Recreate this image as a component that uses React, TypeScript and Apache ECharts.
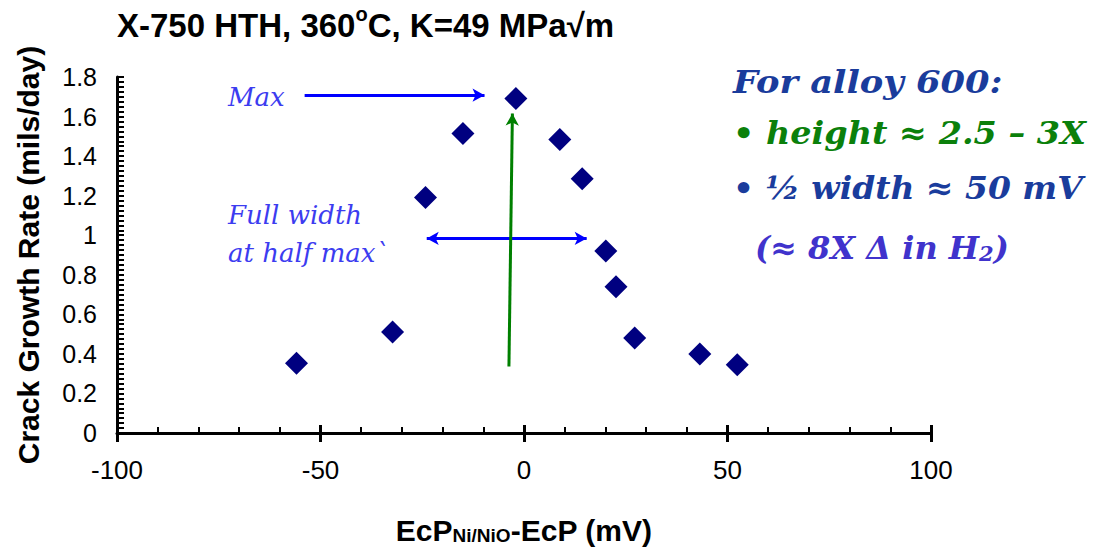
import React, { useEffect, useRef } from "react";
import * as echarts from "echarts";

const potential = [-55.9, -32.3, -24.2, -15.0, -2.0, 8.8, 14.3, 20.1, 22.6, 27.2, 43.2, 52.4];
const growthRate = [0.353, 0.511, 1.191, 1.514, 1.691, 1.484, 1.285, 0.92, 0.74, 0.48, 0.399, 0.345];

const maxArrow = [[-53.9, 1.708], [-9.7, 1.708]];
const fwhmArrow = [[-23.9, 0.984], [15.4, 0.984]];
const heightArrow = [[-3.7, 0.336], [-2.85, 1.615]];

const ARIAL = "'Liberation Sans', Arial, sans-serif";
const SERIF = "'DejaVu Serif', serif";

export default function App() {
  const ref = useRef<HTMLDivElement>(null);
  useEffect(() => {
    if (!ref.current) return;
    const chart = echarts.init(ref.current, null, { renderer: "svg" });
    const points = potential.map((x, i) => [x, growthRate[i]]);
    const bigText = { fontSize: 32, fontWeight: "bold", fontStyle: "italic", fontFamily: SERIF, verticalAlign: "middle" };
    chart.setOption({
      animation: false,
      backgroundColor: "#ffffff",
      title: {
        left: 117,
        top: 4,
        padding: 0,
        text: "{a|X-750 HTH, 360}{s|o}{a|C, K=49 MPa√m}",
        textStyle: {
          rich: {
            a: { fontSize: 33, fontWeight: "bold", fontFamily: ARIAL, color: "#000", verticalAlign: "bottom", lineHeight: 38 },
            s: { fontSize: 20, fontWeight: "bold", fontFamily: ARIAL, color: "#000", verticalAlign: "top", lineHeight: 30 },
          },
        },
      },
      grid: { left: 117, top: 77, width: 814, height: 356, containLabel: false },
      xAxis: [
        {
          type: "value",
          position: "bottom",
          min: -100,
          max: 100,
          interval: 50,
          splitLine: { show: false },
          axisLine: { show: true, onZero: false, lineStyle: { color: "#000", width: 3 } },
          axisTick: { show: true, inside: false, length: 9, lineStyle: { color: "#000", width: 3 } },
          axisLabel: { fontSize: 26, color: "#000", fontFamily: ARIAL, margin: 24 },
          name: "{m|EcP}{s|Ni/NiO}{m|-EcP (mV)}",
          nameLocation: "middle",
          nameGap: 78,
          nameTextStyle: {
            rich: {
              m: { fontSize: 30, fontWeight: "bold", fontFamily: ARIAL, color: "#000", lineHeight: 34, verticalAlign: "bottom" },
              s: { fontSize: 19, fontWeight: "bold", fontFamily: ARIAL, color: "#000", lineHeight: 24, verticalAlign: "bottom" },
            },
          },
        },
        {
          type: "value",
          position: "bottom",
          min: -100,
          max: 100,
          interval: 50,
          splitLine: { show: false },
          axisLine: { show: false, onZero: false },
          axisTick: { show: true, inside: true, length: 8, lineStyle: { color: "#000", width: 3 } },
          minorTick: { show: true, splitNumber: 5, length: 6, lineStyle: { color: "#000", width: 2 } },
          axisLabel: { show: false },
        },
      ],
      yAxis: {
        type: "value",
        min: 0,
        max: 1.8,
        interval: 0.2,
        splitLine: { show: false },
        axisLine: { show: true, onZero: false, lineStyle: { color: "#000", width: 3 } },
        axisTick: { show: true, inside: true, length: 7, lineStyle: { color: "#000", width: 2 } },
        minorTick: { show: true, splitNumber: 8, length: 7, lineStyle: { color: "#000", width: 2 } },
        axisLabel: { fontSize: 25, color: "#000", fontFamily: ARIAL, margin: 20 },
        name: "Crack Growth Rate (mils/day)",
        nameLocation: "middle",
        nameGap: 74,
        nameTextStyle: { fontSize: 30, fontWeight: "bold", fontFamily: ARIAL, color: "#000" },
      },
      series: [
        {
          type: "scatter",
          xAxisIndex: 0,
          yAxisIndex: 0,
          data: points,
          symbol: "diamond",
          symbolSize: 23,
          itemStyle: { color: "#000080", opacity: 1 },
          z: 5,
          markLine: {
            silent: true,
            symbol: ["none", "arrow"],
            symbolSize: [10, 12],
            label: { show: false },
            emphasis: { disabled: true },
            data: [
              [
                { coord: maxArrow[0], symbol: "none", lineStyle: { color: "#0000ff", width: 3, type: "solid" } },
                { coord: maxArrow[1], symbol: "arrow" },
              ],
              [
                { coord: fwhmArrow[0], symbol: "arrow", lineStyle: { color: "#0000ff", width: 3, type: "solid" } },
                { coord: fwhmArrow[1], symbol: "arrow" },
              ],
              [
                { coord: heightArrow[0], symbol: "none", lineStyle: { color: "#008000", width: 3, type: "solid" } },
                { coord: heightArrow[1], symbol: "arrow" },
              ],
            ],
          },
        },
      ],
      graphic: [
        {
          type: "text",
          x: 228,
          y: 97,
          style: { text: "Max", fontSize: 26, fontStyle: "italic", fontFamily: SERIF, fill: "#3c3cf0", verticalAlign: "middle" },
        },
        {
          type: "text",
          x: 228,
          y: 215,
          style: { text: "Full width", fontSize: 26, fontStyle: "italic", fontFamily: SERIF, fill: "#3c3cf0", verticalAlign: "middle" },
        },
        {
          type: "text",
          x: 228,
          y: 253,
          style: { text: "at half max`", fontSize: 26, fontStyle: "italic", fontFamily: SERIF, fill: "#3c3cf0", verticalAlign: "middle" },
        },
        {
          type: "text",
          x: 733,
          y: 82,
          scaleX: 1.1,
          style: { ...bigText, text: "For alloy 600:", fill: "#1a3c9c" },
        },
        {
          type: "text",
          x: 733,
          y: 133,
          scaleX: 1.045,
          style: { ...bigText, text: "• height ≈ 2.5 – 3X", fill: "#0b800b" },
        },
        {
          type: "text",
          x: 733,
          y: 188,
          scaleX: 1.03,
          style: { ...bigText, text: "• ½ width ≈ 50 mV", fill: "#1a3c9c" },
        },
        {
          type: "text",
          x: 755,
          y: 245,
          style: {
            text: "{a|(≈ 8X Δ in H}{s|2}{a|)}",
            verticalAlign: "middle",
            rich: {
              a: { fontSize: 32, fontWeight: "bold", fontStyle: "italic", fontFamily: SERIF, fill: "#4033cc", color: "#4033cc", lineHeight: 38, verticalAlign: "bottom" },
              s: { fontSize: 21, fontWeight: "bold", fontStyle: "italic", fontFamily: SERIF, fill: "#4033cc", color: "#4033cc", lineHeight: 22, verticalAlign: "bottom" },
            },
          },
        },
      ],
    });
    return () => chart.dispose();
  }, []);
  return <div ref={ref} style={{ position: "absolute", left: 0, top: 0, width: 1099, height: 550 }} />;
}
